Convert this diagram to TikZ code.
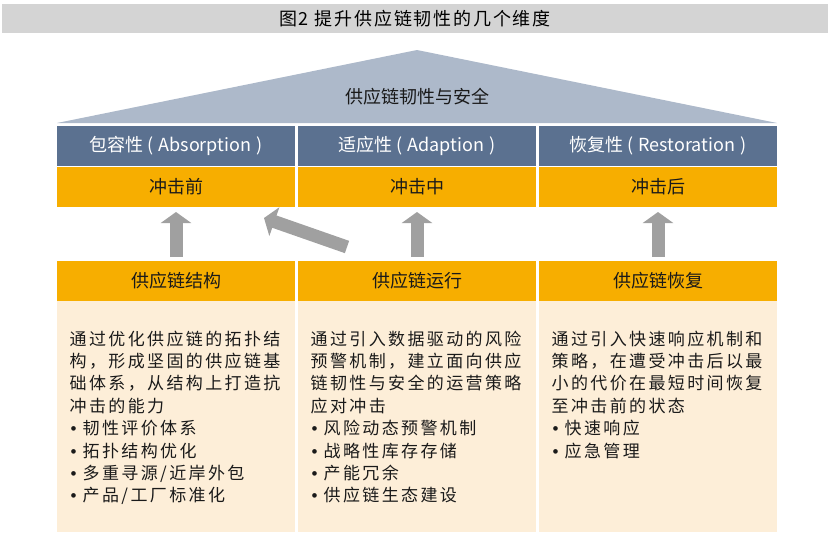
\documentclass[tikz,border=0pt]{standalone}
\usepackage{fontspec}
\setmainfont{Noto Sans CJK SC}
\newfontfamily\bodyfont[LetterSpace=14]{Noto Sans CJK SC}
\newfontfamily\titlefont[LetterSpace=10]{Noto Sans CJK SC}
\newfontfamily\bulletfont{Liberation Sans}
\usepackage{tikz}
\usetikzlibrary{positioning,arrows.meta}

\definecolor{titlegrey}{HTML}{D4D4D4}
\definecolor{roofblue}{HTML}{ADB9CA}
\definecolor{dimblue}{HTML}{5B7190}
\definecolor{stageorange}{HTML}{F7AE00}
\definecolor{desccream}{HTML}{FDEED8}
\definecolor{arrowgrey}{HTML}{A0A0A0}
\definecolor{textblack}{HTML}{1A1A1A}

\newcommand{\bul}{\makebox[13pt][l]{\hspace{1pt}\bulletfont •}}
\newcommand{\paren}[1]{\hspace{4pt}(\hspace{5pt}#1\hspace{5pt})}

\begin{document}
\begin{tikzpicture}[
      x=1pt, y=-1pt,
      dim/.style={
        fill=dimblue,
        text=white,
        minimum width=238pt,
        minimum height=40pt,
        inner sep=0pt,
        outer sep=0pt,
        font=\fontsize{18pt}{22pt}\selectfont
      },
      stage/.style={dim, fill=stageorange, text=textblack},
      desc/.style={
        fill=desccream,
        minimum width=238pt,
        minimum height=231pt,
        inner sep=0pt,
        outer sep=0pt
      },
      desc text/.style={
        anchor=north west,
        align=left,
        inner sep=0pt,
        text=textblack,
        font=\bodyfont\fontsize{17pt}{22.4pt}\selectfont
      },
      up arrow/.style={
        draw=arrowgrey,
        line width=13pt,
        -{Triangle[width=30pt,length=11pt]}
      }
    ]
    \useasboundingbox (0,0) rectangle (835,541);
    %% Title
    \node[fill=titlegrey, minimum width=826pt, minimum height=29pt,
      inner sep=0pt, text=black,
      font=\titlefont\fontsize{18pt}{22pt}\selectfont] (title) at (415,18.5)
      {图2\hspace{6pt}提升供应链韧性的几个维度};
    %% Dimensions
    \node[dim] (dim-1) at (176,146) {包容性\paren{Absorption}};
    \node[dim, right=3pt of dim-1] (dim-2) {适应性\paren{Adaption}};
    \node[dim, right=3pt of dim-2] (dim-3) {恢复性\paren{Restoration}};
    %% Roof
    \coordinate (apex) at (417,50);
    \fill[roofblue] ([yshift=3pt]dim-1.north west) -- (apex)
      -- ([yshift=3pt]dim-3.north east) -- cycle;
    \node[text=textblack, font=\fontsize{18pt}{22pt}\selectfont] (roof) at (417,97)
      {供应链韧性与安全};
    %% Shock stages
    \node[stage, below=1pt of dim-1] (stage-1) {冲击前};
    \node[stage, below=1pt of dim-2] (stage-2) {冲击中};
    \node[stage, below=1pt of dim-3] (stage-3) {冲击后};
    %% Supply chain bases
    \node[stage, below=54pt of stage-1] (base-1) {供应链结构};
    \node[stage, below=54pt of stage-2] (base-2) {供应链运行};
    \node[stage, below=54pt of stage-3] (base-3) {供应链恢复};
    \node[desc, below=0pt of base-1] (desc-1) {};
    \node[desc, below=0pt of base-2] (desc-2) {};
    \node[desc, below=0pt of base-3] (desc-3) {};
    %% Descriptions
    \node[desc text] (text-1) at ([shift={(12.5pt,-29.5pt)}]desc-1.north west) {%
      通过优化供应链的拓扑结\\
      构，形成坚固的供应链基\\
      础体系，从结构上打造抗\\
      冲击的能力\\
      \bul 韧性评价体系\\
      \bul 拓扑结构优化\\
      \bul 多重寻源/近岸外包\\
      \bul 产品/工厂标准化};
    \node[desc text] (text-2) at ([shift={(12.5pt,-29.5pt)}]desc-2.north west) {%
      通过引入数据驱动的风险\\
      预警机制，建立面向供应\\
      链韧性与安全的运营策略\\
      应对冲击\\
      \bul 风险动态预警机制\\
      \bul 战略性库存存储\\
      \bul 产能冗余\\
      \bul 供应链生态建设};
    \node[desc text] (text-3) at ([shift={(12.5pt,-29.5pt)}]desc-3.north west) {%
      通过引入快速响应机制和\\
      策略，在遭受冲击后以最\\
      小的代价在最短时间恢复\\
      至冲击前的状态\\
      \bul 快速响应\\
      \bul 应急管理};
    %% Arrows
    \draw[up arrow, shorten <=4pt, shorten >=5pt] (base-1) -- (stage-1);
    \draw[up arrow, shorten <=4pt, shorten >=5pt] (base-2) -- (stage-2);
    \draw[up arrow, shorten <=4pt, shorten >=5pt] (base-3) -- (stage-3);
    \draw[up arrow] ([shift={(49pt,14pt)}]base-2.north west)
      -- ([shift={(-31pt,-11pt)}]stage-1.south east);
  \end{tikzpicture}
\end{document}
